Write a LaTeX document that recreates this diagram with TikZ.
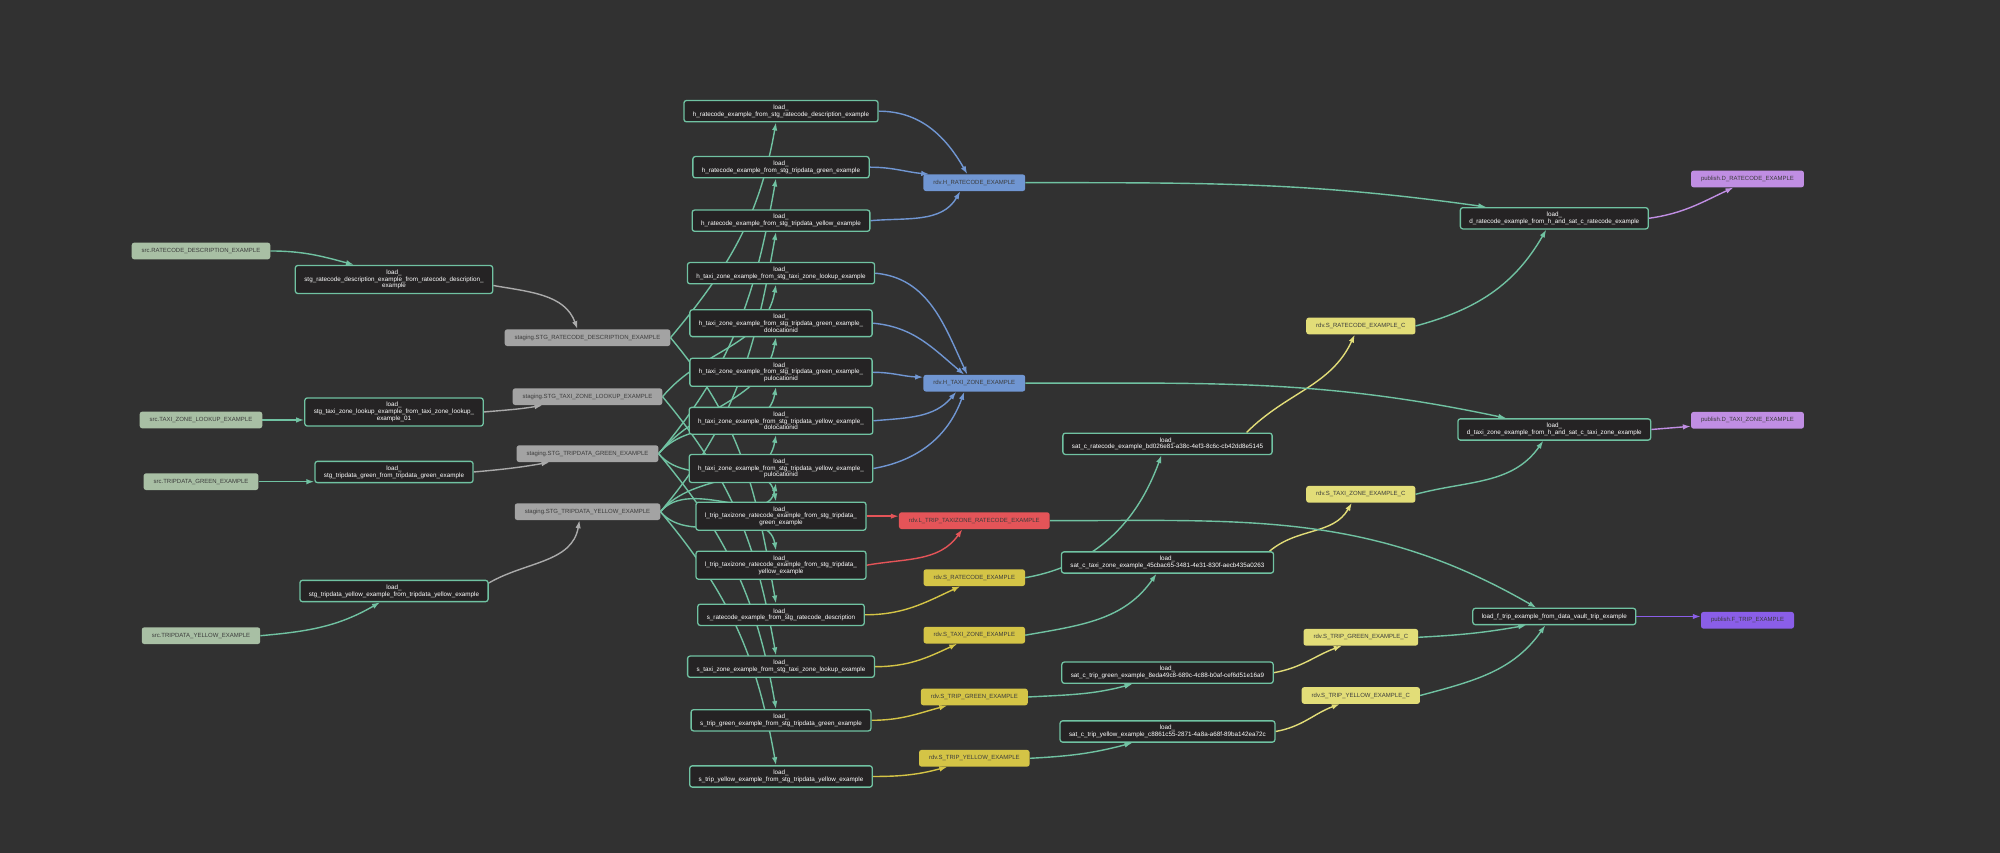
\documentclass[tikz,border=0pt]{standalone}
\usepackage{fontspec}
\setmainfont{Liberation Sans}
\usetikzlibrary{positioning, arrows.meta, calc}
\definecolor{fond}{RGB}{49,49,49}
\definecolor{sauge}{RGB}{168,191,164}
\definecolor{grisstg}{RGB}{163,163,163}
\definecolor{bleuhub}{RGB}{112,150,210}
\definecolor{rougelien}{RGB}{228,84,88}
\definecolor{jaunesat}{RGB}{212,196,70}
\definecolor{jaunepale}{RGB}{226,221,120}
\definecolor{mauvepub}{RGB}{192,142,227}
\definecolor{violetpub}{RGB}{138,94,232}
\definecolor{noircharge}{RGB}{37,35,36}
\definecolor{vertcharge}{RGB}{112,194,162}
\definecolor{textesombre}{RGB}{60,60,60}
\definecolor{grisfleche}{RGB}{170,170,170}
\pgfdeclarelayer{fondplan}
\pgfdeclarelayer{arriere}
\pgfsetlayers{fondplan,arriere,main}

\begin{document}
\begin{tikzpicture}[x=1pt, y=1pt,
    donnee/.style={rounded corners=2.5pt, minimum height=16.7pt, inner xsep=10pt, inner ysep=2pt,
      font=\fontsize{6}{7}\selectfont, text=textesombre},
    src/.style={donnee, fill=sauge},
    stg/.style={donnee, fill=grisstg},
    hub/.style={donnee, fill=bleuhub},
    lien/.style={donnee, fill=rougelien},
    sat/.style={donnee, fill=jaunesat},
    satc/.style={donnee, fill=jaunepale},
    pubd/.style={donnee, fill=mauvepub},
    pubf/.style={donnee, fill=violetpub},
    charge/.style={draw=vertcharge, line width=1.3pt, fill=noircharge, rounded corners=2.5pt,
      text=white, align=center, inner xsep=9pt, inner ysep=4.3pt, minimum height=16.3pt,
      font=\fontsize{6.3}{6.8}\selectfont},
    fl/.style={line width=1.4pt, -{Latex[length=8pt,width=5.5pt]}},
    vert/.style={draw=vertcharge},
    gris/.style={draw=grisfleche},
    bleu/.style={draw=bleuhub},
    rouge/.style={draw=rougelien},
    jaune/.style={draw=jaunesat},
    jaunep/.style={draw=jaunepale},
    mauve/.style={draw=mauvepub},
    violet/.style={draw=violetpub}]

  \begin{pgfonlayer}{fondplan}
    \fill[fond] (0,0) rectangle (2000,853);
  \end{pgfonlayer}
  \useasboundingbox (0,0) rectangle (2000,853);

  % sources
  \node[src] (srcrc) at (201,602) {src.RATECODE\_DESCRIPTION\_EXAMPLE};
  \node[src] (srctz) at (201,433) {src.TAXI\_ZONE\_LOOKUP\_EXAMPLE};
  \node[src] (srcgr) at (201,371.3) {src.TRIPDATA\_GREEN\_EXAMPLE};
  \node[src] (srcye) at (201,217.3) {src.TRIPDATA\_YELLOW\_EXAMPLE};

  % chargements staging
  \node[charge] (ldstgrc) at (394,573.5) {load\_\\stg\_ratecode\_description\_example\_from\_ratecode\_description\_\\example};
  \node[charge] (ldstgtz) at (394,441) {load\_\\stg\_taxi\_zone\_lookup\_example\_from\_taxi\_zone\_lookup\_\\example\_01};
  \node[charge] (ldstggr) at (394,381) {load\_\\stg\_tripdata\_green\_from\_tripdata\_green\_example};
  \node[charge] (ldstgye) at (394,262) {load\_\\stg\_tripdata\_yellow\_example\_from\_tripdata\_yellow\_example};

  % staging
  \node[stg] (stgrc) at (587.5,515.3) {staging.STG\_RATECODE\_DESCRIPTION\_EXAMPLE};
  \node[stg] (stgtz) at (587.5,456.3) {staging.STG\_TAXI\_ZONE\_LOOKUP\_EXAMPLE};
  \node[stg] (stggr) at (587.5,399.3) {staging.STG\_TRIPDATA\_GREEN\_EXAMPLE};
  \node[stg] (stgye) at (587.5,341.3) {staging.STG\_TRIPDATA\_YELLOW\_EXAMPLE};

  % chargements rdv
  \node[charge] (ldhrcd) at (781,741.8) {load\_\\h\_ratecode\_example\_from\_stg\_ratecode\_description\_example};
  \node[charge] (ldhrcg) at (781,685.8) {load\_\\h\_ratecode\_example\_from\_stg\_tripdata\_green\_example};
  \node[charge] (ldhrcy) at (781,632.3) {load\_\\h\_ratecode\_example\_from\_stg\_tripdata\_yellow\_example};
  \node[charge] (ldhtzl) at (781,579.8) {load\_\\h\_taxi\_zone\_example\_from\_stg\_taxi\_zone\_lookup\_example};
  \node[charge] (ldhtzgd) at (781,529.8) {load\_\\h\_taxi\_zone\_example\_from\_stg\_tripdata\_green\_example\_\\dolocationid};
  \node[charge] (ldhtzgp) at (781,480.7) {load\_\\h\_taxi\_zone\_example\_from\_stg\_tripdata\_green\_example\_\\pulocationid};
  \node[charge] (ldhtzyd) at (781,432.2) {load\_\\h\_taxi\_zone\_example\_from\_stg\_tripdata\_yellow\_example\_\\dolocationid};
  \node[charge] (ldhtzyp) at (781,384.5) {load\_\\h\_taxi\_zone\_example\_from\_stg\_tripdata\_yellow\_example\_\\pulocationid};
  \node[charge] (ldltg) at (781,336.8) {load\_\\l\_trip\_taxizone\_ratecode\_example\_from\_stg\_tripdata\_\\green\_example};
  \node[charge] (ldlty) at (781,287.8) {load\_\\l\_trip\_taxizone\_ratecode\_example\_from\_stg\_tripdata\_\\yellow\_example};
  \node[charge] (ldsrc) at (781,238.2) {load\_\\s\_ratecode\_example\_from\_stg\_ratecode\_description};
  \node[charge] (ldstz) at (781,186.3) {load\_\\s\_taxi\_zone\_example\_from\_stg\_taxi\_zone\_lookup\_example};
  \node[charge] (ldstg) at (781,132.7) {load\_\\s\_trip\_green\_example\_from\_stg\_tripdata\_green\_example};
  \node[charge] (ldsty) at (781,76.5) {load\_\\s\_trip\_yellow\_example\_from\_stg\_tripdata\_yellow\_example};

  % rdv
  \node[hub] (hrc) at (974.3,670.3) {rdv.H\_RATECODE\_EXAMPLE};
  \node[hub] (htz) at (974.3,469.8) {rdv.H\_TAXI\_ZONE\_EXAMPLE};
  \node[lien] (ltrip) at (974.3,332.3) {rdv.L\_TRIP\_TAXIZONE\_RATECODE\_EXAMPLE};
  \node[sat] (srdv) at (974.3,275.3) {rdv.S\_RATECODE\_EXAMPLE};
  \node[sat] (stz) at (974.3,217.8) {rdv.S\_TAXI\_ZONE\_EXAMPLE};
  \node[sat] (stgreen) at (974.3,156) {rdv.S\_TRIP\_GREEN\_EXAMPLE};
  \node[sat] (styellow) at (974.3,94.7) {rdv.S\_TRIP\_YELLOW\_EXAMPLE};

  % chargements sat_c
  \node[charge] (ldsatrc) at (1167.5,409.2) {load\_\\sat\_c\_ratecode\_example\_bd026e81-a38c-4ef3-8c6c-cb42dd8e5145};
  \node[charge] (ldsattz) at (1167.5,290.5) {load\_\\sat\_c\_taxi\_zone\_example\_45cbac65-3481-4e31-830f-aecb435a0263};
  \node[charge] (ldsattg) at (1167.5,180.3) {load\_\\sat\_c\_trip\_green\_example\_8eda49c8-689c-4c88-b0af-cef6d51e16a9};
  \node[charge] (ldsatty) at (1167.5,121.5) {load\_\\sat\_c\_trip\_yellow\_example\_c8861c55-2871-4a8a-a68f-89ba142ea72c};

  % satellites calcules
  \node[satc] (satcrc) at (1360.8,527) {rdv.S\_RATECODE\_EXAMPLE\_C};
  \node[satc] (satctz) at (1360.8,358.7) {rdv.S\_TAXI\_ZONE\_EXAMPLE\_C};
  \node[satc] (satctg) at (1360.8,215.7) {rdv.S\_TRIP\_GREEN\_EXAMPLE\_C};
  \node[satc] (satcty) at (1360.8,157.5) {rdv.S\_TRIP\_YELLOW\_EXAMPLE\_C};

  % chargements publish
  \node[charge] (lddrc) at (1554.3,634.7) {load\_\\d\_ratecode\_example\_from\_h\_and\_sat\_c\_ratecode\_example};
  \node[charge] (lddtz) at (1554.3,423.5) {load\_\\d\_taxi\_zone\_example\_from\_h\_and\_sat\_c\_taxi\_zone\_example};
  \node[charge] (ldf) at (1554.3,236.5) {load\_f\_trip\_example\_from\_data\_vault\_trip\_example};

  % publish
  \node[pubd] (pubdrc) at (1747.5,674) {publish.D\_RATECODE\_EXAMPLE};
  \node[pubd] (pubdtz) at (1747.5,432.7) {publish.D\_TAXI\_ZONE\_EXAMPLE};
  \node[pubf] (pubft) at (1747.5,232.7) {publish.F\_TRIP\_EXAMPLE};

  \begin{pgfonlayer}{arriere}
    % sources -> stg
    \draw[fl, vert] (srcrc.east) to[out=0, in=165] ($(ldstgrc.north)+(-40,0)$);
    \draw[fl, vert] (srctz.east) -- (srctz.east -| ldstgtz.west);
    \draw[fl, vert] (srcgr.east) -- (srcgr.east -| ldstggr.west);
    \draw[fl, vert] (srcye.east) to[out=5, in=-150] ($(ldstgye.south)+(-14,0)$);
    % stg -> staging
    \draw[fl, gris] ($(ldstgrc.east)+(0,-6)$) to[out=-10, in=110] ($(stgrc.north)+(-10,0)$);
    \draw[fl, gris] (ldstgtz.east) to[out=5, in=-170] ($(stgtz.south)+(-45,0)$);
    \draw[fl, gris] (ldstggr.east) to[out=5, in=-170] ($(stggr.south)+(-38,0)$);
    \draw[fl, gris] ($(ldstgye.east)+(0,8)$) to[out=30, in=-100] ($(stgye.south)+(-8,0)$);
    % staging -> chargements rdv
    \foreach \s/\t in {stgrc/ldhrcd, stgtz/ldhtzl, stggr/ldhrcg, stggr/ldhtzgd, stggr/ldhtzgp,
                       stgye/ldhrcy, stgye/ldhtzyd, stgye/ldhtzyp}
      \draw[fl, vert] (\s.east) to[out=50, in=-100] ($(\t.south)+(-5,0)$);
    \foreach \s/\t in {stgrc/ldsrc, stgtz/ldstz, stggr/ldltg, stggr/ldstg, stgye/ldlty, stgye/ldsty}
      \draw[fl, vert] (\s.east) to[out=-50, in=100] ($(\t.north)+(-5,0)$);
    % hubs
    \draw[fl, bleu] (ldhrcd.east) to[out=0, in=120] ($(hrc.north)+(-7,0)$);
    \draw[fl, bleu] (ldhrcg.east) to[out=0, in=175] ($(hrc.north west)+(6,0)$);
    \draw[fl, bleu] (ldhrcy.east) to[out=5, in=-120] ($(hrc.south)+(-14,0)$);
    \draw[fl, bleu] (ldhtzl.east) to[out=-5, in=115] ($(htz.north)+(-7,0)$);
    \draw[fl, bleu] (ldhtzgd.east) to[out=-5, in=140] ($(htz.north)+(-10,0)$);
    \draw[fl, bleu] (ldhtzgp.east) to[out=0, in=178] ($(htz.west)+(0,6)$);
    \draw[fl, bleu] (ldhtzyd.east) to[out=5, in=-130] ($(htz.south)+(-18,0)$);
    \draw[fl, bleu] (ldhtzyp.east) to[out=10, in=-110] ($(htz.south)+(-10,0)$);
    % lien
    \draw[fl, rouge] (ldltg.east) -- (ldltg.east -| ltrip.west);
    \draw[fl, rouge] (ldlty.east) to[out=10, in=-125] ($(ltrip.south)+(-12,0)$);
    % satellites
    \draw[fl, jaune] (ldsrc.east) to[out=0, in=-155] ($(srdv.south)+(-14,0)$);
    \draw[fl, jaune] (ldstz.east) to[out=0, in=-155] ($(stz.south)+(-17,0)$);
    \draw[fl, jaune] (ldstg.east) to[out=0, in=-165] ($(stgreen.south)+(-27,0)$);
    \draw[fl, jaune] (ldsty.east) to[out=0, in=-165] ($(styellow.south)+(-27,0)$);
    % rdv -> sat_c
    \draw[fl, vert] (srdv.east) to[out=10, in=-110] ($(ldsatrc.south)+(-6,0)$);
    \draw[fl, vert] (stz.east) to[out=10, in=-125] ($(ldsattz.south)+(-11,0)$);
    \draw[fl, vert] (stgreen.east) to[out=3, in=-165] ($(ldsattg.south)+(-35,0)$);
    \draw[fl, vert] (styellow.east) to[out=3, in=-165] ($(ldsatty.south)+(-35,0)$);
    \draw[fl, jaunep] ($(ldsatrc.north)+(79,0)$) to[out=45, in=-115] ($(satcrc.south)+(-6,0)$);
    \draw[fl, jaunep] ($(ldsattz.north)+(102,0)$) to[out=40, in=-120] ($(satctz.south)+(-9,0)$);
    \draw[fl, jaunep] (ldsattg.east) to[out=10, in=-160] ($(satctg.south)+(-19,0)$);
    \draw[fl, jaunep] (ldsatty.east) to[out=10, in=-160] ($(satcty.south)+(-21,0)$);
    % vers publish
    \draw[fl, vert] (hrc.east) to[out=0, in=172] ($(lddrc.north)+(-68,0)$);
    \draw[fl, vert] (satcrc.east) to[out=15, in=-120] ($(lddrc.south)+(-8,0)$);
    \draw[fl, vert] (htz.east) to[out=0, in=168] ($(lddtz.north)+(-48,0)$);
    \draw[fl, vert] (satctz.east) to[out=15, in=-125] ($(lddtz.south)+(-11,0)$);
    \draw[fl, vert] (ltrip.east) to[out=0, in=150] ($(ldf.north)+(-18,0)$);
    \draw[fl, vert] (satctg.east) to[out=3, in=-170] ($(ldf.south)+(-28,0)$);
    \draw[fl, vert] (satcty.east) to[out=15, in=-125] ($(ldf.south)+(-9,0)$);
    \draw[fl, mauve] (lddrc.east) to[out=8, in=-155] ($(pubdrc.south)+(-14,0)$);
    \draw[fl, mauve] (lddtz.east) -- ($(pubdtz.west)+(0,-6)$);
    \draw[fl, violet] (ldf.east) -- (ldf.east -| pubft.west);
  \end{pgfonlayer}
\end{tikzpicture}
\end{document}
